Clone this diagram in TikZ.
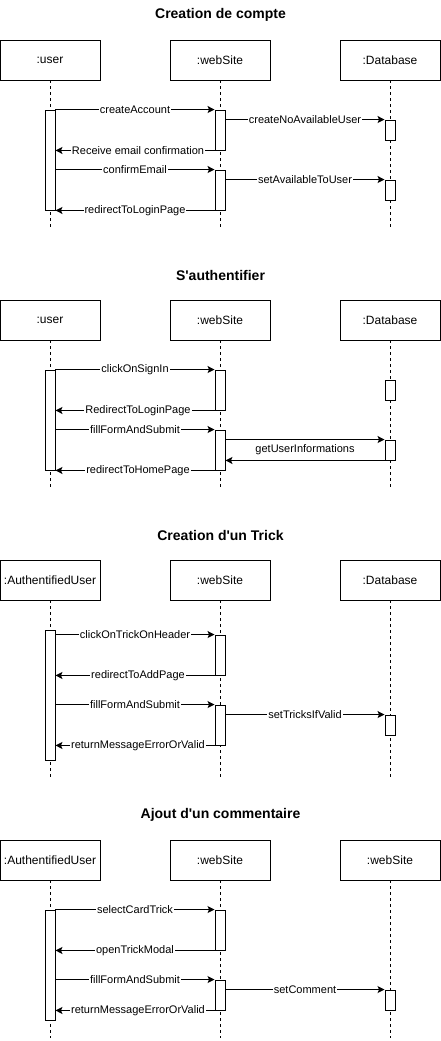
\documentclass[tikz,border=0pt]{standalone}
\usepackage{fontspec}
\setmainfont{Liberation Sans}
\usetikzlibrary{arrows.meta}
\tikzset{
  obj/.style={draw, line width=0.9pt, minimum width=100pt, minimum height=40pt, inner sep=0pt, font=\fontsize{12}{14}\selectfont},
  actbar/.style={draw, fill=white, line width=0.9pt, minimum width=10pt, inner sep=0pt},
  lifeline/.style={line width=0.9pt, dash pattern=on 3pt off 3pt},
  msg/.style={line width=0.9pt, -{Stealth[length=7pt,width=7pt,inset=1.5pt]}},
  lbl/.style={fill=white, inner sep=1pt, font=\fontsize{11}{13}\selectfont},
  ttl/.style={font=\fontsize{14}{16}\selectfont\bfseries}
}
\begin{document}
\begin{tikzpicture}[x=1pt, y=-1pt]
\fill[white] (0,0) rectangle (441,1041);
\useasboundingbox (0,0) rectangle (441,1041);

% ===== Section 1 =====
\begin{scope}[shift={(0,0)}]
\node[ttl] (t1) at (220.5,15) {Creation de compte};
\node[obj] (a1) at (50,60) {:user};
\node[obj] (b1) at (220,60) {:webSite};
\node[obj] (c1) at (390,60) {:Database};
\coordinate (a1e) at (50,228);
\coordinate (b1e) at (220,228);
\coordinate (c1e) at (390,228);
\draw[lifeline] (a1.south) -- (a1e);
\draw[lifeline] (b1.south) -- (b1e);
\draw[lifeline] (c1.south) -- (c1e);
\node[actbar, minimum height=100pt] (ua1) at (50,160) {};
\node[actbar, minimum height=40pt] (wa11) at (220,130) {};
\node[actbar, minimum height=40pt] (wa12) at (220,190) {};
\node[actbar, minimum height=20pt] (da11) at (390,130) {};
\node[actbar, minimum height=20pt] (da12) at (390,190) {};
\draw[msg] (ua1.north east) -- node[lbl] {createAccount} (wa11.north west);
\draw[msg] (wa11.east |- da11.north) -- node[lbl] {createNoAvailableUser} (da11.north west);
\draw[msg] (wa11.south west) -- node[lbl, xshift=3pt] {Receive email confirmation} (ua1.east |- wa11.south);
\draw[msg] (ua1.east |- wa12.north) -- node[lbl] {confirmEmail} (wa12.north west);
\draw[msg] (wa12.east |- da12.north) -- node[lbl] {setAvailableToUser} (da12.north west);
\draw[msg] (wa12.south west) -- node[lbl] {redirectToLoginPage} (ua1.south east);
\end{scope}

% ===== Section 2 =====
\begin{scope}[shift={(0,260)}]
\node[ttl] (t2) at (220.5,15) {S\textquotesingle authentifier};
\node[obj] (a2) at (50,60) {:user};
\node[obj] (b2) at (220,60) {:webSite};
\node[obj] (c2) at (390,60) {:Database};
\coordinate (a2e) at (50,228);
\coordinate (b2e) at (220,228);
\coordinate (c2e) at (390,228);
\draw[lifeline] (a2.south) -- (a2e);
\draw[lifeline] (b2.south) -- (b2e);
\draw[lifeline] (c2.south) -- (c2e);
\node[actbar, minimum height=100pt] (ua2) at (50,160) {};
\node[actbar, minimum height=40pt] (wa21) at (220,130) {};
\node[actbar, minimum height=40pt] (wa22) at (220,190) {};
\node[actbar, minimum height=20pt] (da21) at (390,130) {};
\node[actbar, minimum height=20pt] (da22) at (390,190) {};
\draw[msg] (ua2.north east) -- node[lbl] {clickOnSignIn} (wa21.north west);
\draw[msg] (wa21.south west) -- node[lbl, xshift=3pt] {RedirectToLoginPage} (ua2.east |- wa21.south);
\draw[msg] (ua2.east |- wa22.north) -- node[lbl] {fillFormAndSubmit} (wa22.north west);
\draw[msg] (wa22.east |- da22.north) -- (da22.north west);
\draw[msg] (da22.south west) -- (wa22.east |- da22.south);
\node[font=\fontsize{11}{13}\selectfont] (gui) at (305,190) {getUserInformations};
\draw[msg] (wa22.south west) -- node[lbl, xshift=3pt] {redirectToHomePage} (ua2.south east);
\end{scope}

% ===== Section 3 =====
\begin{scope}[shift={(0,520)}]
\node[ttl] (t3) at (220.5,15) {Creation d\textquotesingle un Trick};
\node[obj] (a3) at (50,60) {:AuthentifiedUser};
\node[obj] (b3) at (220,60) {:webSite};
\node[obj] (c3) at (390,60) {:Database};
\coordinate (a3e) at (50,258);
\coordinate (b3e) at (220,258);
\coordinate (c3e) at (390,258);
\draw[lifeline] (a3.south) -- (a3e);
\draw[lifeline] (b3.south) -- (b3e);
\draw[lifeline] (c3.south) -- (c3e);
\node[actbar, minimum height=130pt] (ua3) at (50,175) {};
\node[actbar, minimum height=40pt] (wa31) at (220,135) {};
\node[actbar, minimum height=40pt] (wa32) at (220,205) {};
\node[actbar, minimum height=20pt] (da31) at (390,205) {};
\draw[msg] (ua3.east |- wa31.north) -- node[lbl] {clickOnTrickOnHeader} (wa31.north west);
\draw[msg] (wa31.south west) -- node[lbl, xshift=3pt] {redirectToAddPage} (ua3.east |- wa31.south);
\draw[msg] (ua3.east |- wa32.north) -- node[lbl] {fillFormAndSubmit} (wa32.north west);
\draw[msg] (wa32.east |- da31.north) -- node[lbl] {setTricksIfValid} (da31.north west);
\draw[msg] (wa32.south west) -- node[lbl, xshift=3pt] {returnMessageErrorOrValid} (ua3.east |- wa32.south);
\end{scope}

% ===== Section 4 =====
\begin{scope}[shift={(0,800)}]
\node[ttl] (t4) at (220.5,15) {Ajout d\textquotesingle un commentaire};
\node[obj] (a4) at (50,60) {:AuthentifiedUser};
\node[obj] (b4) at (220,60) {:webSite};
\node[obj] (c4) at (390,60) {:webSite};
\coordinate (a4e) at (50,238);
\coordinate (b4e) at (220,238);
\coordinate (c4e) at (390,238);
\draw[lifeline] (a4.south) -- (a4e);
\draw[lifeline] (b4.south) -- (b4e);
\draw[lifeline] (c4.south) -- (c4e);
\node[actbar, minimum height=110pt] (ua4) at (50,165) {};
\node[actbar, minimum height=40pt] (wa41) at (220,130) {};
\node[actbar, minimum height=30pt] (wa42) at (220,195) {};
\node[actbar, minimum height=20pt] (da41) at (390,200) {};
\draw[msg] (ua4.north east) -- node[lbl] {selectCardTrick} (wa41.north west);
\draw[msg] (wa41.south west) -- node[lbl] {openTrickModal} (ua4.east |- wa41.south);
\draw[msg] (ua4.east |- wa42.north) -- node[lbl] {fillFormAndSubmit} (wa42.north west);
\draw[msg] (wa42.east |- da41.north) -- node[lbl] {setComment} (da41.north west);
\draw[msg] (wa42.south west) -- node[lbl, xshift=3pt] {returnMessageErrorOrValid} (ua4.east |- wa42.south);
\end{scope}
\end{tikzpicture}
\end{document}
